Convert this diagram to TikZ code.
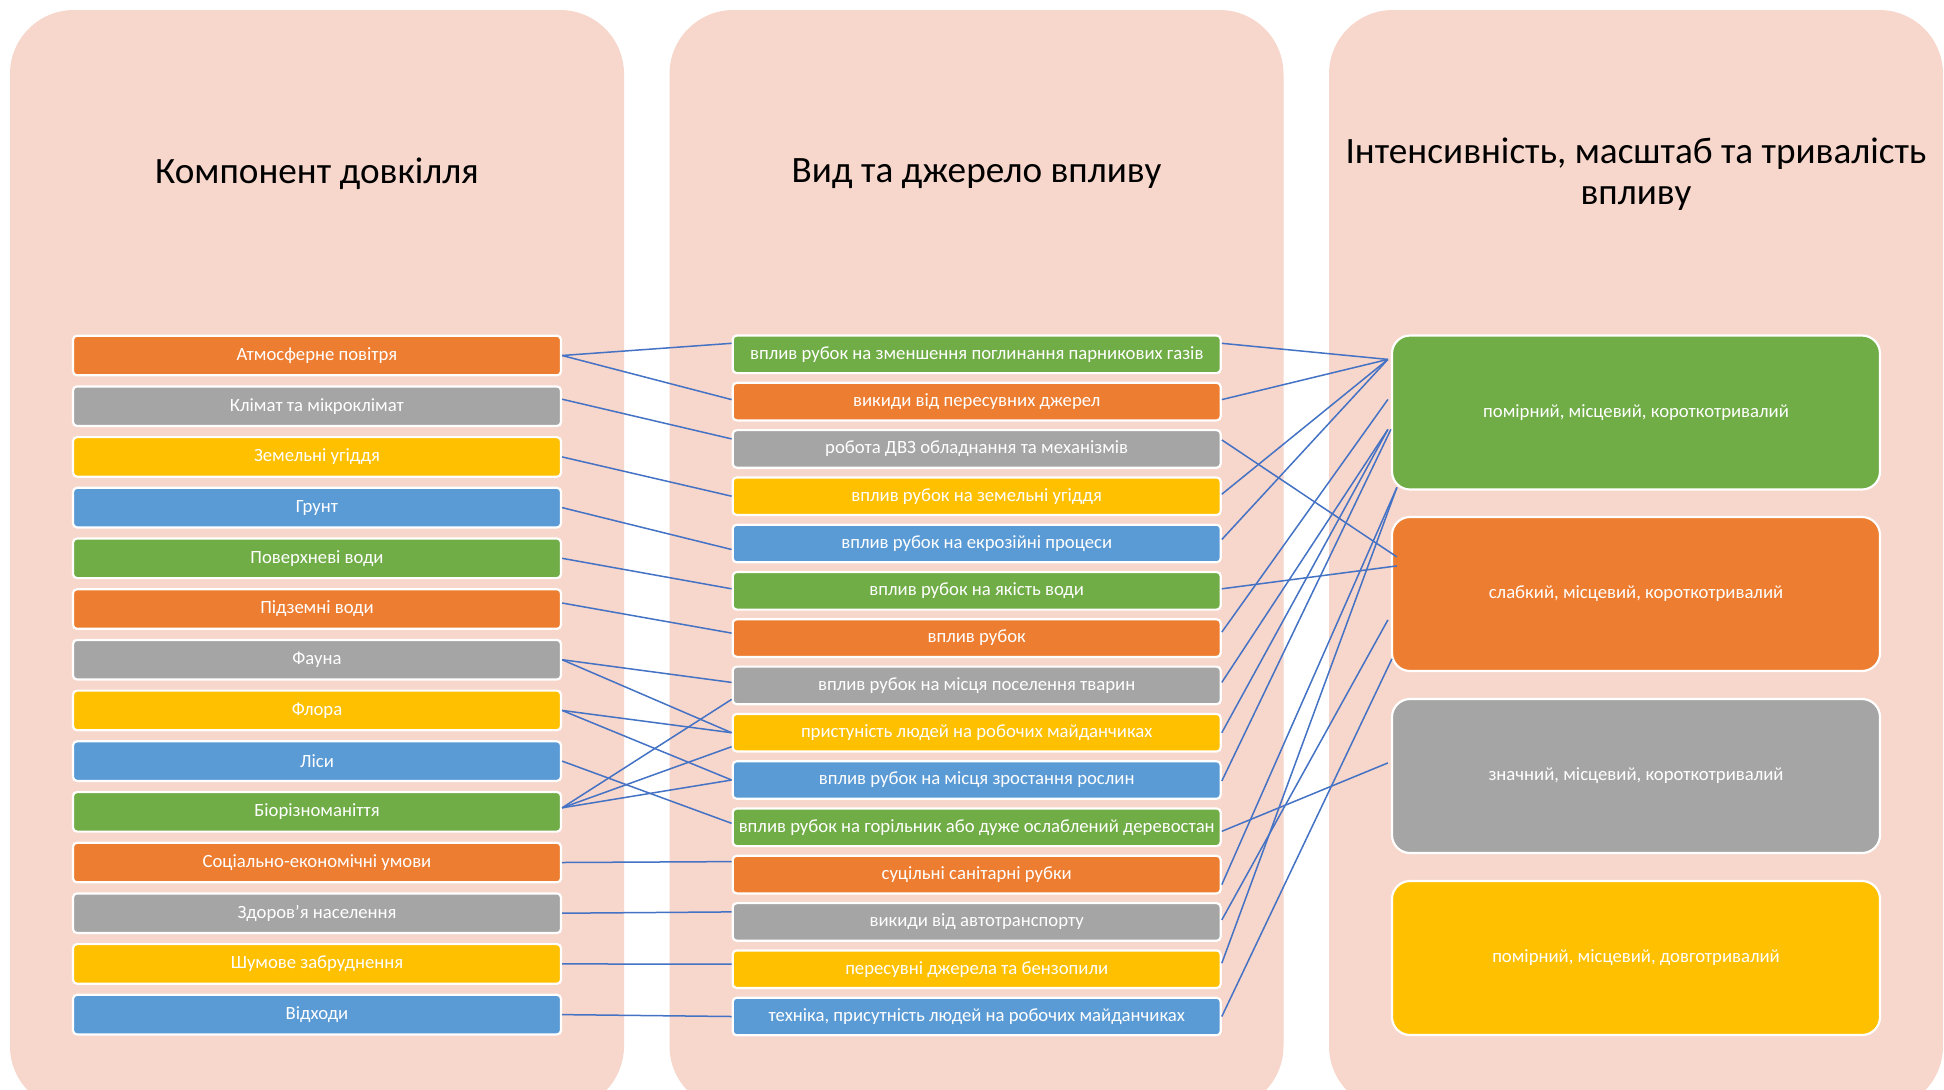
\documentclass[tikz,border=0pt]{standalone}
\usepackage{fontspec}
\setmainfont{Carlito}
\usetikzlibrary{calc}
\definecolor{cOr}{HTML}{ED7D31}
\definecolor{cGr}{HTML}{A5A5A5}
\definecolor{cYe}{HTML}{FFC000}
\definecolor{cBl}{HTML}{5B9BD5}
\definecolor{cGn}{HTML}{70AD47}
\definecolor{panelc}{HTML}{F7D6CB}
\definecolor{lnkc}{HTML}{4472C4}
\tikzset{
  panelbox/.style={fill=panelc, draw=none, rounded corners=32pt},
  ttl/.style={font=\fontsize{18.6}{20.3}\selectfont, text=black, align=center},
  basebox/.style={draw=white, line width=1.1pt, text=white, inner sep=0pt,
     minimum width=244pt, font=\fontsize{9.35}{11}\selectfont},
  lbox/.style={basebox, rounded corners=2pt, minimum height=19.8pt},
  mbox/.style={basebox, rounded corners=2pt, minimum height=18.8pt},
  rbox/.style={basebox, rounded corners=9pt, minimum height=77pt},
  conn/.style={draw=lnkc, line width=0.75pt},
}
\begin{document}
\begin{tikzpicture}[x=0.5pt,y=-0.5pt]
\useasboundingbox (0,0) rectangle (1944,1089);
\clip (0,0) rectangle (1944,1089);
\fill[white] (0,0) rectangle (1944,1089);
% panels
\path[panelbox] (10,10) rectangle (624,1110);
\path[panelbox] (669.5,10) rectangle (1283.5,1110);
\path[panelbox] (1329,10) rectangle (1943,1110);
% titles
\node[ttl] (t1) at (317,174) {Компонент довкілля};
\node[ttl] (t2) at (976.5,174) {Вид та джерело впливу};
\node[ttl] (t3) at (1636,174) {Інтенсивність, масштаб та тривалість\\впливу};
% left column
\node[lbox, fill=cOr] (l1) at (317,355.5) {Атмосферне повітря};
\node[lbox, fill=cGr] (l2) at (317,406.2) {Клімат та мікроклімат};
\node[lbox, fill=cYe] (l3) at (317,456.9) {Земельні угіддя};
\node[lbox, fill=cBl] (l4) at (317,507.6) {Грунт};
\node[lbox, fill=cGn] (l5) at (317,558.3) {Поверхневі води};
\node[lbox, fill=cOr] (l6) at (317,609.0) {Підземні води};
\node[lbox, fill=cGr] (l7) at (317,659.7) {Фауна};
\node[lbox, fill=cYe] (l8) at (317,710.4) {Флора};
\node[lbox, fill=cBl] (l9) at (317,761.1) {Ліси};
\node[lbox, fill=cGn] (l10) at (317,811.8) {Біорізноманіття};
\node[lbox, fill=cOr] (l11) at (317,862.5) {Соціально-економічні умови};
\node[lbox, fill=cGr] (l12) at (317,913.2) {Здоров'я населення};
\node[lbox, fill=cYe] (l13) at (317,963.9) {Шумове забруднення};
\node[lbox, fill=cBl] (l14) at (317,1014.6) {Відходи};
% middle column
\node[mbox, fill=cGn] (m1) at (976.7,354.3) {вплив рубок на зменшення поглинання парникових газів};
\node[mbox, fill=cOr] (m2) at (976.7,401.6) {викиди від пересувних джерел};
\node[mbox, fill=cGr] (m3) at (976.7,448.9) {робота ДВЗ обладнання та механізмів};
\node[mbox, fill=cYe] (m4) at (976.7,496.2) {вплив рубок на земельні угіддя};
\node[mbox, fill=cBl] (m5) at (976.7,543.5) {вплив рубок на екрозійні процеси};
\node[mbox, fill=cGn] (m6) at (976.7,590.8) {вплив рубок на якість води};
\node[mbox, fill=cOr] (m7) at (976.7,638.1) {вплив рубок};
\node[mbox, fill=cGr] (m8) at (976.7,685.4) {вплив рубок на місця поселення тварин};
\node[mbox, fill=cYe] (m9) at (976.7,732.7) {пристуність людей на робочих майданчиках};
\node[mbox, fill=cBl] (m10) at (976.7,780.0) {вплив рубок на місця зростання рослин};
\node[mbox, fill=cGn] (m11) at (976.7,827.3) {вплив рубок на горільник або дуже ослаблений деревостан};
\node[mbox, fill=cOr] (m12) at (976.7,874.6) {суцільні санітарні рубки};
\node[mbox, fill=cGr] (m13) at (976.7,921.9) {викиди від автотранспорту};
\node[mbox, fill=cYe] (m14) at (976.7,969.2) {пересувні джерела та бензопили};
\node[mbox, fill=cBl] (m15) at (976.7,1016.5) {техніка, присутність людей на робочих майданчиках};
% right column
\node[rbox, fill=cGn] (r1) at (1636,412.5) {помірний, місцевий, короткотривалий};
\node[rbox, fill=cOr] (r2) at (1636,594) {слабкий, місцевий, короткотривалий};
\node[rbox, fill=cGr] (r3) at (1636,776) {значний, місцевий, короткотривалий};
\node[rbox, fill=cYe] (r4) at (1636,958) {помірний, місцевий, довготривалий};
% attachment points on the right column
\coordinate (ra) at ($(r1.north west)+(-3,25)$);
\coordinate (rb) at ($(r1.north west)+(-3,65)$);
\coordinate (rc) at ($(r1.north west)+(-3,95)$);
\coordinate (rd) at ($(r1.north west)+(6,153)$);
\coordinate (rp) at ($(r2.north west)+(6,41)$);
\coordinate (rq) at ($(r2.north west)+(6,50)$);
\coordinate (re) at ($(r2.north west)+(-3,104)$);
\coordinate (rf) at ($(r2.north west)+(1,143)$);
\coordinate (rg) at ($(r3.north west)+(-3,65)$);
% left -> middle
\draw[conn] (l1.east) -- ($(m1.west)+(0,-11)$);
\draw[conn] (l1.east) -- ($(m2.west)+(0,-2)$);
\draw[conn] ($(l2.east)+(0,-7)$) -- ($(m3.west)+(0,-10)$);
\draw[conn] (l3.east) -- (m4.west);
\draw[conn] (l4.east) -- ($(m5.west)+(0,6)$);
\draw[conn] (l5.east) -- ($(m6.west)+(0,-2)$);
\draw[conn] ($(l6.east)+(0,-6)$) -- ($(m7.west)+(0,-5)$);
\draw[conn] (l7.east) -- ($(m8.west)+(0,-3)$);
\draw[conn] (l7.east) -- (m9.west);
\draw[conn] (l8.east) -- (m9.west);
\draw[conn] (l8.east) -- (m10.west);
\draw[conn] (l9.east) -- ($(m11.west)+(0,-4)$);
\draw[conn] ($(l10.east)+(0,-4)$) -- ($(m8.west)+(0,14)$);
\draw[conn] ($(l10.east)+(0,-4)$) -- ($(m9.west)+(0,14)$);
\draw[conn] ($(l10.east)+(0,-4)$) -- (m10.west);
\draw[conn] (l11.east) -- ($(m12.west)+(0,-13)$);
\draw[conn] (l12.east) -- ($(m13.west)+(0,-10)$);
\draw[conn] (l13.east) -- ($(m14.west)+(0,-5)$);
\draw[conn] (l14.east) -- (m15.west);
% middle -> right
\draw[conn] ($(m1.east)+(0,-11)$) -- (ra);
\draw[conn] ($(m2.east)+(0,-2)$) -- (ra);
\draw[conn] ($(m4.east)+(0,-2)$) -- (ra);
\draw[conn] ($(m5.east)+(0,-4)$) -- (ra);
\draw[conn] ($(m3.east)+(0,-9)$) -- (rp);
\draw[conn] ($(m6.east)+(0,-2)$) -- (rq);
\draw[conn] ($(m7.east)+(0,-6)$) -- (rb);
\draw[conn] ($(m8.east)+(0,-3)$) -- (rc);
\draw[conn] (m9.east) -- (rc);
\draw[conn] ($(m10.east)+(0,1)$) -- ($(rc)+(3,0)$);
\draw[conn] ($(m11.east)+(0,4)$) -- (rg);
\draw[conn] ($(m12.east)+(0,10)$) -- (rd);
\draw[conn] ($(m14.east)+(0,-6)$) -- (rd);
\draw[conn] ($(m13.east)+(0,-2)$) -- (re);
\draw[conn] (m15.east) -- (rf);
\end{tikzpicture}
\end{document}
